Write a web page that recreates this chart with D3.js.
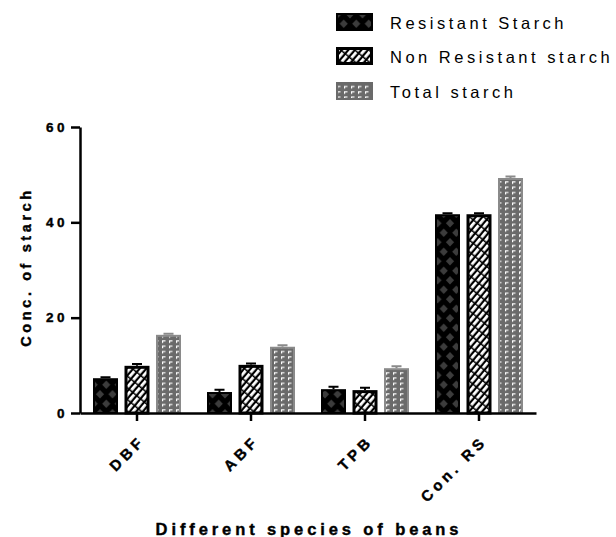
<!DOCTYPE html>
<html>
<head>
<meta charset="utf-8">
<script src="https://cdn.jsdelivr.net/npm/d3@7"></script>
<style>
  body { margin: 0; background: #fff; }
  svg { font-family: "Liberation Sans", Arial, sans-serif; }
</style>
</head>
<body>
<div id="chart"></div>
<script>
// data
var species = ["DBF", "ABF", "TPB", "Con. RS"];
var seriesNames = ["Resistant Starch", "Non Resistant starch", "Total starch"];
var resistant = [7.3, 4.4, 5.0, 41.7];
var nonResistant = [9.9, 10.1, 4.8, 41.7];
var total = [16.4, 13.9, 9.4, 49.3];
var errResistant = [0.2, 0.5, 0.5, 0.2];
var errNonResistant = [0.4, 0.3, 0.5, 0.2];
var errTotal = [0.2, 0.3, 0.4, 0.3];
var yTicks = [0, 20, 40, 60];

var width = 616, height = 537;

var svg = d3.select("#chart").append("svg")
  .attr("width", width)
  .attr("height", height);

// fill patterns
var defs = svg.append("defs");

var pRS = defs.append("pattern")
  .attr("id", "pRS")
  .attr("patternUnits", "userSpaceOnUse")
  .attr("width", 12.5).attr("height", 19);
pRS.append("rect").attr("width", 12.5).attr("height", 19).attr("fill", "#000");
pRS.append("path")
  .attr("d", "M6.25,0.5 L10.3,4.75 L6.25,9 L2.2,4.75Z M0,10 L4.05,14.25 L0,18.5 L-4.05,14.25Z M12.5,10 L16.55,14.25 L12.5,18.5 L8.45,14.25Z")
  .attr("fill", "#3c3c3c");

var pNRS = defs.append("pattern")
  .attr("id", "pNRS")
  .attr("patternUnits", "userSpaceOnUse")
  .attr("width", 5).attr("height", 9)
  .attr("patternTransform", "rotate(40)");
pNRS.append("rect").attr("width", 5).attr("height", 9).attr("fill", "#000");
pNRS.append("rect").attr("x", 0).attr("y", 0).attr("width", 2.8).attr("height", 7.5).attr("fill", "#fff");

var pTot = defs.append("pattern")
  .attr("id", "pTot")
  .attr("patternUnits", "userSpaceOnUse")
  .attr("width", 7).attr("height", 5.3);
pTot.append("rect").attr("width", 7).attr("height", 5.3).attr("fill", "#6a6a6a");
pTot.append("path")
  .attr("d", "M1,1 h3.5 v1.2 h-2.3 v1.6 h-1.2Z")
  .attr("fill", "#fff");

var fills = ["url(#pRS)", "url(#pNRS)", "url(#pTot)"];
var strokes = ["#000", "#000", "#8a8a8a"];
var strokeW = [2, 3, 2];
var capColor = ["#000", "#000", "#8a8a8a"];

var x = d3.scaleBand().domain(species).range([80, 536]).padding(0);
var y = d3.scaleLinear().domain([0, 60]).range([413, 127]);

var barW = 25, barStep = 31.5;

var rows = [];
species.forEach(function(s, i) {
  [resistant, nonResistant, total].forEach(function(arr, k) {
    var errs = [errResistant, errNonResistant, errTotal][k];
    rows.push({sp: s, k: k, v: arr[i], e: errs[i]});
  });
});

var bars = svg.append("g");

// error caps (drawn behind bars)
bars.selectAll(".err").data(rows).enter().append("path")
  .attr("d", function(d) {
    var cx = x(d.sp) + x.bandwidth() / 2 + (d.k - 1) * barStep;
    return "M" + cx + "," + y(d.v) + "V" + y(d.v + d.e) +
      "M" + (cx - 5) + "," + y(d.v + d.e) + "H" + (cx + 5);
  })
  .attr("stroke", function(d) { return capColor[d.k]; })
  .attr("stroke-width", 2)
  .attr("fill", "none");

bars.selectAll(".bar").data(rows).enter().append("rect")
  .attr("x", function(d) { return x(d.sp) + x.bandwidth() / 2 + (d.k - 1) * barStep - barW / 2 + strokeW[d.k] / 2; })
  .attr("y", function(d) { return y(d.v) + strokeW[d.k] / 2; })
  .attr("width", function(d) { return barW - strokeW[d.k]; })
  .attr("height", function(d) { return y(0) - y(d.v) - strokeW[d.k] / 2; })
  .attr("fill", function(d) { return fills[d.k]; })
  .attr("stroke", function(d) { return strokes[d.k]; })
  .attr("stroke-width", function(d) { return strokeW[d.k]; });

// y axis
var yAxis = svg.append("g")
  .attr("transform", "translate(80,0)")
  .call(d3.axisLeft(y).tickValues(yTicks).tickSize(9).tickPadding(3).tickSizeOuter(0));
yAxis.select(".domain").attr("stroke-width", 2.5);
yAxis.selectAll(".tick line").attr("stroke-width", 2.5);
yAxis.selectAll("text")
  .style("font-size", "13.5px").style("font-weight", "bold")
  .attr("letter-spacing", 3.5)
  .attr("stroke", "#000").attr("stroke-width", 0.4)
  .attr("font-family", "Liberation Sans, Arial, sans-serif");

// x axis
var xAxis = svg.append("g")
  .attr("transform", "translate(0,413)")
  .call(d3.axisBottom(x).tickSize(8).tickSizeOuter(0));
xAxis.select(".domain").attr("stroke-width", 2.5);
xAxis.selectAll(".tick line").attr("stroke-width", 2.5);
xAxis.selectAll("text")
  .style("font-size", "15px").style("font-weight", "bold")
  .attr("letter-spacing", 4)
  .attr("stroke", "#000").attr("stroke-width", 0.4)
  .attr("font-family", "Liberation Sans, Arial, sans-serif")
  .attr("text-anchor", "end")
  .attr("dy", null)
  .attr("y", 0)
  .attr("transform", "translate(9,29) rotate(-45)");

// axis titles
svg.append("text")
  .attr("transform", "translate(31,267) rotate(-90)")
  .attr("text-anchor", "middle")
  .attr("font-size", 14.5).attr("font-weight", "bold")
  .attr("letter-spacing", 3.6)
  .attr("stroke", "#000").attr("stroke-width", 0.4)
  .text("Conc. of starch");

svg.append("text")
  .attr("x", 309).attr("y", 535)
  .attr("text-anchor", "middle")
  .attr("font-size", 16.5).attr("font-weight", "bold")
  .attr("letter-spacing", 3.9)
  .attr("stroke", "#000").attr("stroke-width", 0.4)
  .text("Different species of beans");

// legend
var legend = svg.append("g");
var legY = [13, 47, 82];
seriesNames.forEach(function(name, k) {
  legend.append("rect")
    .attr("x", 336 + strokeW[k] / 2).attr("y", legY[k] + strokeW[k] / 2)
    .attr("width", 37 - strokeW[k]).attr("height", 18 - strokeW[k])
    .attr("fill", fills[k])
    .attr("stroke", k == 2 ? "#6a6a6a" : "#000")
    .attr("stroke-width", strokeW[k]);
  legend.append("text")
    .attr("x", 390).attr("y", legY[k] + 16)
    .attr("font-size", 16.5)
    .attr("letter-spacing", 3.5)
    .text(name);
});
</script>
</body>
</html>
